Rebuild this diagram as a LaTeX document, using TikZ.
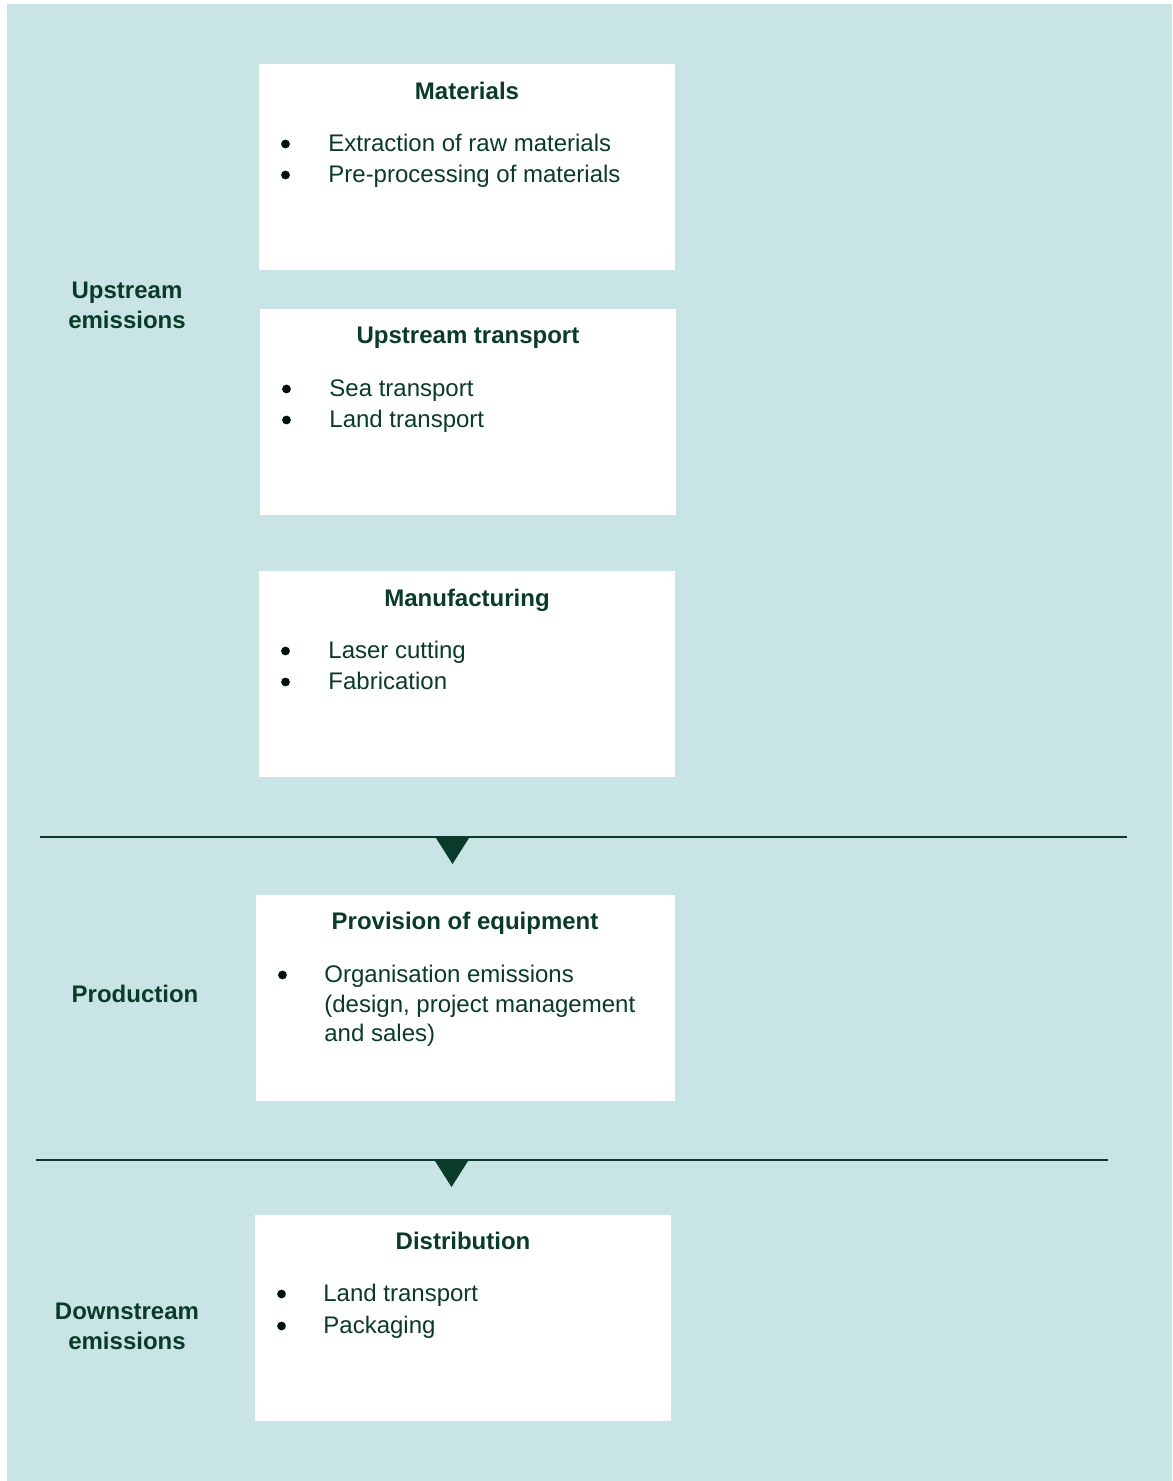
\documentclass[tikz,border=0pt]{standalone}
\usepackage{fontspec}
\setmainfont{Liberation Sans}
\definecolor{bgteal}{RGB}{201,228,228}
\definecolor{darkgreen}{RGB}{10,58,42}

\begin{document}
\begin{tikzpicture}[
    x=0.5pt, y=-0.5pt,
    % Define styles
    stagebox/.style={
        rectangle,
        fill=white,
        inner sep=0pt,
        minimum width=208pt,
        minimum height=103pt,
        anchor=north west
    },
    boxtitle/.style={
        font=\fontsize{12}{15.5}\selectfont\bfseries,
        text=darkgreen,
        inner sep=0pt,
        anchor=base
    },
    itemtext/.style={
        font=\fontsize{12}{15.5}\selectfont,
        text=darkgreen,
        inner sep=0pt,
        anchor=base west
    },
    bulletdot/.style={
        circle,
        fill=black!70!darkgreen,
        inner sep=0pt,
        minimum size=4.4pt
    },
    phaselabel/.style={
        font=\fontsize{12}{15}\selectfont\bfseries,
        text=darkgreen,
        align=center,
        inner sep=0pt
    },
    rule/.style={
        draw=darkgreen,
        line width=1pt
    },
    pointer/.style={
        fill=darkgreen
    }
]

% Variables (pixel units)
\def\matx{259}
\def\maty{64}
\def\upx{260}
\def\upy{309}
\def\manx{259}
\def\many{571}
\def\prox{256}
\def\proy{895}
\def\disx{255}
\def\disy{1215}
\def\boxw{416} % must match style

% Background
\useasboundingbox (0,0) rectangle (1172,1481);
\fill[bgteal] (7,4) rectangle (1172,1481);

% Phase labels
\node[phaselabel] (upstream) at (127,305) {Upstream\\emissions};
\node[phaselabel] (production) at (135,994) {Production};
\node[phaselabel] (downstream) at (127,1326) {Downstream\\emissions};

% Materials
\node[stagebox] (materials) at (\matx,\maty) {};
\node[boxtitle] at (\matx+\boxw/2,\maty+35.5) {Materials};
\node[bulletdot] at (\matx+26.5,\maty+80) {};
\node[itemtext] at (\matx+69,\maty+87.5) {Extraction of raw materials};
\node[bulletdot] at (\matx+26.5,\maty+111) {};
\node[itemtext] at (\matx+69,\maty+118.5) {Pre-processing of materials};

% Upstream transport
\node[stagebox] (transport) at (\upx,\upy) {};
\node[boxtitle] at (\upx+\boxw/2,\upy+34.5) {Upstream transport};
\node[bulletdot] at (\upx+26.5,\upy+80) {};
\node[itemtext] at (\upx+69,\upy+87.5) {Sea transport};
\node[bulletdot] at (\upx+26.5,\upy+111) {};
\node[itemtext] at (\upx+69,\upy+118.5) {Land transport};

% Manufacturing
\node[stagebox] (manufacturing) at (\manx,\many) {};
\node[boxtitle] at (\manx+\boxw/2,\many+35.5) {Manufacturing};
\node[bulletdot] at (\manx+26.5,\many+80) {};
\node[itemtext] at (\manx+69,\many+87.5) {Laser cutting};
\node[bulletdot] at (\manx+26.5,\many+111) {};
\node[itemtext] at (\manx+69,\many+118.5) {Fabrication};

% First divider
\coordinate (rulea-w) at (40,837);
\coordinate (rulea-e) at (1127,837);
\draw[rule] (rulea-w) -- (rulea-e);
\fill[pointer] (436,838) -- (469,838) -- (452.5,864) -- cycle;

% Provision of equipment
\node[stagebox, minimum width=209.5pt] (provision) at (\prox,\proy) {};
\node[boxtitle] at (\prox+209,\proy+34.5) {Provision of equipment};
\node[bulletdot] at (\prox+26.5,\proy+80) {};
\node[itemtext, align=left, font=\fontsize{12}{14.75}\selectfont, anchor=north west]
    at (\prox+68,\proy+70) {Organisation emissions\\(design, project management\\and sales)};

% Second divider
\coordinate (ruleb-w) at (36,1160);
\coordinate (ruleb-e) at (1108,1160);
\draw[rule] (ruleb-w) -- (ruleb-e);
\fill[pointer] (435,1161) -- (468,1161) -- (451.5,1187) -- cycle;

% Distribution
\node[stagebox] (distribution) at (\disx,\disy) {};
\node[boxtitle] at (\disx+\boxw/2,\disy+34.5) {Distribution};
\node[bulletdot] at (\disx+26.5,\disy+79) {};
\node[itemtext] at (\disx+68,\disy+86.5) {Land transport};
\node[bulletdot] at (\disx+26.5,\disy+111) {};
\node[itemtext] at (\disx+68,\disy+118.5) {Packaging};

\end{tikzpicture}
\end{document}
